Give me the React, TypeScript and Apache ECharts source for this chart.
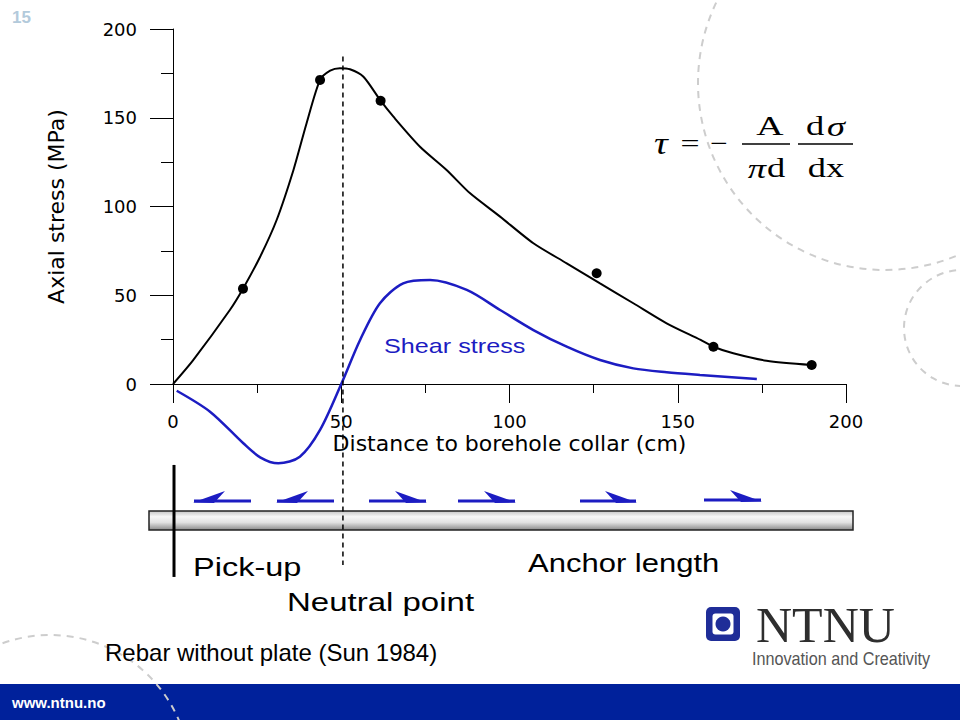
import React, { useEffect, useRef } from "react";
import * as echarts from "echarts";

// Axial stress curve (distance cm, stress MPa)
const AXIAL_X = [0, 6.0, 16.9, 20.8, 25.9, 30.8, 35.8, 39.7, 43.7, 46.7, 49.6, 52.6, 56.6, 61.7, 65.5, 73.4, 81.3, 88.3, 97.2, 107.1, 117.0, 126.9, 136.8, 146.7, 156.8, 160.6, 166.5, 176.4, 189.8];
const AXIAL_Y = [0, 13.5, 41.7, 53.7, 71.7, 92.4, 120.6, 146.9, 171.3, 176.5, 177.9, 177.3, 173.1, 159.6, 150.6, 133.7, 120.6, 107.4, 94.3, 79.3, 68.0, 56.7, 45.5, 34.2, 24.8, 21.0, 17.3, 13.1, 10.7];

// Measured points
const MEASURED_X = [20.8, 43.7, 61.7, 125.9, 160.6, 189.8];
const MEASURED_Y = [53.7, 171.3, 159.6, 62.4, 21.0, 10.7];

// Shear stress curve (scaled)
const SHEAR_X = [1.1, 11.0, 20.9, 25.9, 31.3, 37.7, 43.7, 50.1, 55.6, 61.5, 68.4, 76.4, 87.3, 97.2, 107.1, 117.0, 126.9, 136.8, 146.7, 156.6, 173.5];
const SHEAR_Y = [-3.8, -15.6, -33.4, -41.3, -44.7, -41.0, -25.9, 0.4, 24.8, 45.5, 56.7, 58.6, 53.0, 41.7, 30.4, 21.0, 13.5, 8.8, 6.6, 5.1, 2.8];

// Neutral point and pick-up markers
const NEUTRAL_X = [50.5, 50.5];
const NEUTRAL_Y = [184.5, -102];
const PICKUP_X = [0.3, 0.3];
const PICKUP_Y = [-45.6, -108.7];

const AXIS_MIN = 0;
const AXIS_MAX = 200;
const AXIS_INTERVAL = 50;

const BLUE = "#1c1cc2";
const SANS = "'Liberation Sans', Arial, sans-serif";
const SERIF = "'Liberation Serif', 'Times New Roman', serif";
const WIDE = "'DejaVu Sans', sans-serif";

const zip = (xs: number[], ys: number[]) => xs.map((x, i) => [x, ys[i]]);

function txt(text: string, x: number, y: number, opts: any = {}) {
  const { scaleX = 1, fontSize = 20, fill = "#000", family = SANS, align = "left", weight = "normal", style = "normal", z = 10 } = opts;
  return {
    type: "text",
    x,
    y,
    scaleX,
    z,
    silent: true,
    style: {
      text,
      fill,
      fontSize,
      fontFamily: family,
      fontWeight: weight,
      fontStyle: style,
      align,
      verticalAlign: "middle",
    },
  };
}

function arrow(x0: number, x1: number, dir: number, y: number) {
  const els: any[] = [];
  els.push({
    type: "line",
    z: 6,
    silent: true,
    shape: { x1: x0, y1: y, x2: x1, y2: y },
    style: { stroke: BLUE, lineWidth: 3 },
  });
  const pts =
    dir > 0
      ? [[x1 - 31, y - 10], [x1 + 1, y + 1.5], [x1 - 20, y + 2]]
      : [[x0 + 31, y - 10], [x0 - 1, y + 1.5], [x0 + 20, y + 2]];
  els.push({ type: "polygon", z: 6, silent: true, shape: { points: pts }, style: { fill: BLUE } });
  return els;
}

export default function App() {
  const ref = useRef<HTMLDivElement>(null);
  useEffect(() => {
    if (!ref.current) return;
    const chart = echarts.init(ref.current, null, { renderer: "svg" });
    const dashedCircle = (cx: number, cy: number, r: number) => ({
      type: "circle",
      z: 1,
      silent: true,
      shape: { cx, cy, r },
      style: { fill: "none", stroke: "#cdcdcd", lineWidth: 2, lineDash: [7, 6] },
    });
    const graphic: any[] = [
      { type: "rect", z: 0, silent: true, shape: { x: 0, y: 684, width: 960, height: 36 }, style: { fill: "#00219b" } },
      dashedCircle(885, 83, 187),
      dashedCircle(962, 328, 58),
      dashedCircle(50, 775, 140),
      txt("www.ntnu.no", 12, 702, { fill: "#ffffff", fontSize: 15, weight: "bold" }),
      txt("15", 12, 17, { fill: "#b3cadb", fontSize: 17, weight: "bold" }),
      {
        type: "rect",
        z: 0,
        silent: true,
        shape: { x: 149, y: 511, width: 704, height: 19 },
        style: {
          fill: new echarts.graphic.LinearGradient(0, 0, 0, 1, [
            { offset: 0, color: "#c4c4c4" },
            { offset: 0.3, color: "#f6f6f6" },
            { offset: 0.6, color: "#e2e2e2" },
            { offset: 1, color: "#8a8a8a" },
          ]),
          stroke: "#222",
          lineWidth: 1.5,
        },
      },
      ...arrow(194, 251, -1, 501),
      ...arrow(277, 334, -1, 501),
      ...arrow(369, 426, 1, 501),
      ...arrow(458, 515, 1, 501),
      ...arrow(580, 636, 1, 501),
      ...arrow(704, 761, 1, 500),
      txt("Shear stress", 384, 346, { fill: BLUE, fontSize: 20, scaleX: 1.26 }),
      txt("Pick-up", 193, 567, { fontSize: 25, scaleX: 1.3 }),
      txt("Neutral point", 287, 602, { fontSize: 25, scaleX: 1.32 }),
      txt("Anchor length", 528, 564, { fontSize: 25, scaleX: 1.24 }),
      txt("Rebar without plate (Sun 1984)", 105, 652, { fontSize: 24 }),
      // formula
      txt("τ", 661, 144, { family: SERIF, fontSize: 32, style: "italic", align: "center", scaleX: 1.2 }),
      txt("=", 690, 143, { family: SERIF, fontSize: 26, align: "center", scaleX: 1.3 }),
      txt("−", 719, 143, { family: SERIF, fontSize: 26, align: "center", scaleX: 1.2 }),
      { type: "line", z: 10, silent: true, shape: { x1: 742, y1: 144, x2: 790, y2: 144 }, style: { stroke: "#000", lineWidth: 1.5 } },
      { type: "line", z: 10, silent: true, shape: { x1: 798, y1: 144, x2: 853, y2: 144 }, style: { stroke: "#000", lineWidth: 1.5 } },
      txt("A", 770, 126, { family: SERIF, fontSize: 27, align: "center", scaleX: 1.4 }),
      txt("π", 757, 169, { family: SERIF, fontSize: 27, style: "italic", align: "center", scaleX: 1.35 }),
      txt("d", 776, 168, { family: SERIF, fontSize: 27, align: "center", scaleX: 1.35 }),
      txt("d", 815, 126, { family: SERIF, fontSize: 27, align: "center", scaleX: 1.35 }),
      txt("σ", 836, 127, { family: SERIF, fontSize: 27, style: "italic", align: "center", scaleX: 1.35 }),
      txt("dx", 826, 168, { family: SERIF, fontSize: 27, align: "center", scaleX: 1.35 }),
      // NTNU logo
      { type: "rect", z: 5, silent: true, shape: { x: 706, y: 607, width: 34, height: 34, r: 5 }, style: { fill: "#1f2d98" } },
      { type: "rect", z: 6, silent: true, shape: { x: 712.5, y: 613.5, width: 21, height: 21, r: 3 }, style: { fill: "#ffffff" } },
      { type: "circle", z: 7, silent: true, shape: { cx: 723, cy: 624, r: 7.5 }, style: { fill: "#1f2d98" } },
      txt("NTNU", 756, 625, { family: SERIF, fontSize: 50, fill: "#2e2e2e" }),
      txt("Innovation and Creativity", 752, 659, { fontSize: 18, fill: "#555555", scaleX: 0.9 }),
    ];

    chart.setOption({
      animation: false,
      backgroundColor: "#ffffff",
      graphic,
      grid: { left: 173, top: 29, width: 673, height: 355, containLabel: false, outerBoundsMode: "none" },
      xAxis: {
        type: "value",
        min: AXIS_MIN,
        max: AXIS_MAX,
        interval: AXIS_INTERVAL,
        name: "Distance to borehole collar (cm)",
        nameLocation: "middle",
        nameGap: 48,
        nameTextStyle: { fontFamily: WIDE, fontSize: 22, color: "#000" },
        axisLine: { show: true, lineStyle: { color: "#000", width: 1 } },
        axisTick: { show: true, length: 19, lineStyle: { color: "#000", width: 1 } },
        minorTick: { show: true, splitNumber: 2, length: 9, lineStyle: { color: "#000", width: 1 } },
        splitLine: { show: false },
        minorSplitLine: { show: false },
        axisLabel: { fontFamily: WIDE, fontSize: 18, color: "#000", margin: 28 },
      },
      yAxis: {
        type: "value",
        min: AXIS_MIN,
        max: AXIS_MAX,
        interval: AXIS_INTERVAL,
        name: "Axial stress (MPa)",
        nameLocation: "middle",
        nameGap: 106,
        nameTextStyle: { fontFamily: WIDE, fontSize: 22, color: "#000" },
        axisLine: { show: true, lineStyle: { color: "#000", width: 1 } },
        axisTick: { show: true, length: 23, lineStyle: { color: "#000", width: 1 } },
        minorTick: { show: true, splitNumber: 2, length: 12, lineStyle: { color: "#000", width: 1 } },
        splitLine: { show: false },
        minorSplitLine: { show: false },
        axisLabel: { fontFamily: WIDE, fontSize: 18, color: "#000", margin: 36 },
      },
      series: [
        {
          type: "line",
          name: "Axial stress",
          data: zip(AXIAL_X, AXIAL_Y),
          smooth: 0.25,
          symbol: "none",
          clip: false,
          lineStyle: { color: "#000", width: 2 },
          z: 3,
        },
        {
          type: "scatter",
          name: "Measured",
          data: zip(MEASURED_X, MEASURED_Y),
          symbolSize: 10,
          itemStyle: { color: "#000", opacity: 1 },
          z: 4,
        },
        {
          type: "line",
          name: "Shear stress",
          data: zip(SHEAR_X, SHEAR_Y),
          smooth: 0.3,
          symbol: "none",
          clip: false,
          lineStyle: { color: BLUE, width: 2.5 },
          z: 3,
        },
        {
          type: "line",
          name: "Neutral point",
          data: zip(NEUTRAL_X, NEUTRAL_Y),
          symbol: "none",
          clip: false,
          lineStyle: { color: "#000", width: 1.5, type: [5, 4] },
          z: 3,
        },
        {
          type: "line",
          name: "Pick-up",
          data: zip(PICKUP_X, PICKUP_Y),
          symbol: "none",
          clip: false,
          lineStyle: { color: "#000", width: 3 },
          z: 3,
        },
      ],
    });
    return () => chart.dispose();
  }, []);

  return (
    <div
      ref={ref}
      style={{ position: "fixed", left: 0, top: 0, width: 960, height: 720, background: "#fff" }}
    />
  );
}
